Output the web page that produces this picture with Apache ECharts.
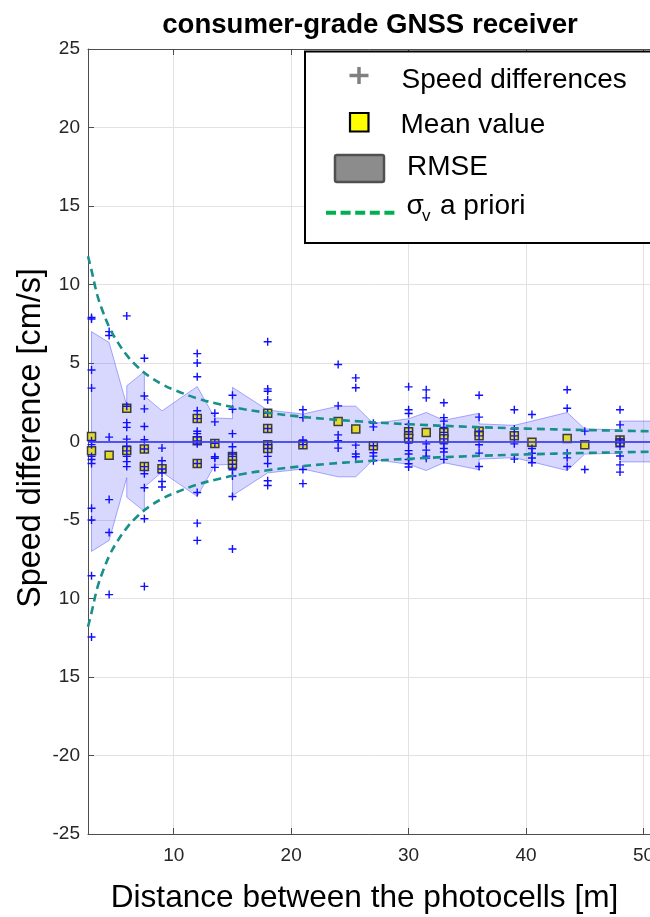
<!DOCTYPE html>
<html>
<head>
<meta charset="utf-8">
<title>consumer-grade GNSS receiver</title>
<script src="https://cdn.jsdelivr.net/npm/echarts@6/dist/echarts.min.js"></script>
<style>
  html, body { margin: 0; padding: 0; background: #ffffff; }
  #chart { width: 650px; height: 917px; }
</style>
</head>
<body>
<div id="chart"></div>
<script>
// Distances between the photocells [m] for each measurement group
const groupDistances = [3, 4.5, 6, 7.5, 9, 12, 13.5, 15, 18, 21, 24, 25.5, 27, 30, 31.5, 33, 36, 39, 40.5, 43.5, 45, 48];

// Individual speed differences [cm/s] in each group
const groupSpeedDiffs = [
  [7.9, 7.8, 4.55, 3.4, 0.05, -0.2, -0.95, -1.15, -1.4, -4.25, -5.0, -8.55, -12.45],
  [7.0, 6.75, 0.28, -3.7, -5.8, -9.75],
  [8.0, 2.25, 1.2, 0.9, 0.15, -0.3, -0.6, -0.95, -1.28, -1.6],
  [5.3, 2.9, 2.08, 0.96, 0.11, -0.48, -1.6, -2.05, -2.95, -4.92, -9.23],
  [-0.42, -1.23, -1.75, -2.0, -2.55, -2.9],
  [5.6, 5.0, 4.12, 1.96, 1.46, 0.65, 0.5, 0.3, 0.04, -0.15, -1.4, -3.25, -5.2, -6.3],
  [1.8, 1.25, -0.12, -0.97, -1.07, -1.65],
  [2.95, 2.05, 0.5, -0.33, -0.8, -0.95, -1.45, -1.8, -2.2, -3.5, -6.85],
  [6.35, 3.35, 3.2, 2.65, 1.8, 0.83, -0.2, -0.45, -0.95, -1.4, -2.5, -2.8],
  [2.02, 1.52, 0.1, -0.2, -1.78, -2.68],
  [4.9, 2.27, 0.42, 0.05, -0.42],
  [4.05, 3.42, -0.23, -0.8, -0.97],
  [1.17, 0.93, -0.27, -0.72, -0.93, -1.23],
  [3.48, 2.02, 1.78, 1.1, 0.62, 0.21, -0.1, -0.58, -0.8, -1.15, -1.42, -1.62],
  [3.29, 2.78, -0.15, -0.55, -0.93, -1.06],
  [2.47, 1.52, 1.3, 0.9, 0.58, 0.17, -0.15, -0.45, -0.67, -1.14],
  [2.95, 1.55, 0.66, 0.36, -0.21, -0.74, -1.59],
  [2.02, 0.8, 0.36, -0.15, -1.12],
  [1.72, -0.45, -0.75, -1.05, -1.35],
  [3.3, 2.12, -0.74, -1.04, -1.59],
  [0.66, -1.78],
  [2.02, 1.06, 0.1, -0.08, -0.3, -0.92, -1.49, -1.95]
];

// Mean value of each run
const meanDistances = [3, 3, 4.5, 6, 6, 7.5, 7.5, 9, 12, 12, 12, 13.5, 15, 15, 18, 18, 18, 18, 21, 24, 25.5, 27, 30, 30, 31.5, 33, 33, 36, 36, 39, 40.5, 43.5, 45, 48, 48];
const meanValues = [0.32, -0.59, -0.87, 2.12, -0.57, -0.48, -1.6, -1.74, 1.46, 0.04, -1.4, -0.12, -0.95, -1.45, 1.8, 0.83, -0.2, -0.45, -0.2, 1.27, 0.8, -0.27, 0.62, 0.21, 0.58, 0.58, 0.17, 0.66, 0.36, 0.36, -0.04, 0.19, -0.21, 0.1, -0.08];

// RMSE envelope (drawn as +/- RMSE around zero)
const rmseDistances = [3, 4.5, 6, 6, 7.5, 7.5, 9, 12, 13.5, 15, 15, 18, 21, 24, 25.5, 27, 30, 31.5, 33, 36, 36, 39, 40.5, 43.5, 45, 48, 48, 51];
const rmseValues = [7.0, 6.3, 2.3, 3.55, 4.45, 2.9, 1.95, 3.5, 1.5, 1.45, 3.45, 2.0, 1.75, 2.25, 2.25, 1.15, 1.45, 1.85, 1.35, 1.8, 1.12, 1.03, 1.3, 1.85, 0.8, 0.75, 1.3, 1.3];

// A priori speed accuracy (sigma_v) versus distance
const sigmaDistances = [2.7, 3, 3.5, 4, 4.5, 5, 6, 7, 8, 9, 10, 12, 14, 16, 18, 20, 23, 26, 30, 35, 40, 45, 50, 53];
const sigmaValues = [11.8, 10.9, 9.3, 8.2, 7.3, 6.6, 5.5, 4.7, 4.1, 3.65, 3.3, 2.75, 2.35, 2.05, 1.83, 1.65, 1.43, 1.27, 1.1, 0.94, 0.82, 0.73, 0.66, 0.62];

// Axis ticks
const xTickValues = [10, 20, 30, 40, 50];
const yTickValues = [-25, -20, -15, -10, -5, 0, 5, 10, 15, 20, 25];
const yTickLabels = ['-25', '-20', '15', '10', '-5', '0', '5', '10', '15', '20', '25'];

const FONT = '"Liberation Sans", Arial, Helvetica, sans-serif';
const AXIS_COLOR = '#4d4d4d';
const GRID_COLOR = '#e2e2e2';

const crossData = [];
groupDistances.forEach((d, i) => {
  groupSpeedDiffs[i].forEach(v => crossData.push([d, v]));
});
const meanData = meanDistances.map((d, i) => [d, meanValues[i]]);
const sigmaUpper = sigmaDistances.map((d, i) => [d, sigmaValues[i]]);
const sigmaLower = sigmaDistances.map((d, i) => [d, -sigmaValues[i]]);
const rmseData = rmseDistances.map((d, i) => [d, rmseValues[i]]);

const chart = echarts.init(document.getElementById('chart'), null, { renderer: 'canvas' });

// legend entries are drawn above everything in the plot
const legendText = (text, x, y, size) => ({
  type: 'text', x: x, y: y, z: 101, silent: true,
  style: { text: text, fill: '#000', font: size + 'px ' + FONT, textAlign: 'left', textVerticalAlign: 'middle' }
});

const option = {
  animation: false,
  backgroundColor: '#ffffff',
  grid: { left: 88, top: 49, width: 579, height: 785, outerBoundsMode: 'none', containLabel: false },
  xAxis: [
    {
      type: 'value', min: 2.7, max: 52, position: 'bottom',
      axisLine: { show: true, onZero: false, lineStyle: { color: AXIS_COLOR, width: 1 } },
      axisTick: { show: true, inside: true, length: 6, customValues: xTickValues, lineStyle: { color: AXIS_COLOR } },
      axisLabel: { show: true, customValues: xTickValues, fontSize: 19, color: '#262626', fontFamily: FONT, margin: 12 },
      splitLine: { show: true, lineStyle: { color: GRID_COLOR, width: 1 } }
    },
    {
      type: 'value', min: 2.7, max: 52, position: 'top',
      axisLine: { show: true, onZero: false, lineStyle: { color: AXIS_COLOR, width: 1 } },
      axisTick: { show: true, inside: true, length: 6, customValues: xTickValues, lineStyle: { color: AXIS_COLOR } },
      axisLabel: { show: false },
      splitLine: { show: false }
    }
  ],
  yAxis: {
    type: 'value', min: -25, max: 25, interval: 5,
    axisLine: { show: true, onZero: false, lineStyle: { color: AXIS_COLOR, width: 1 } },
    axisTick: { show: true, inside: true, length: 6, lineStyle: { color: AXIS_COLOR } },
    axisLabel: {
      fontSize: 19, color: '#262626', fontFamily: FONT, margin: 8,
      formatter: v => {
        const i = yTickValues.indexOf(v);
        return i >= 0 ? yTickLabels[i] : '';
      }
    },
    splitLine: { show: true, lineStyle: { color: GRID_COLOR, width: 1 } }
  },
  series: [
    {
      name: 'RMSE',
      type: 'custom',
      silent: true,
      clip: true,
      data: rmseData,
      renderItem: (params, api) => {
        if (params.dataIndex !== 0) return null;
        const upper = rmseDistances.map((d, i) => api.coord([d, rmseValues[i]]));
        const lower = rmseDistances.map((d, i) => api.coord([d, -rmseValues[i]])).reverse();
        return {
          type: 'polygon',
          shape: { points: upper.concat(lower) },
          style: { fill: 'rgba(40,40,255,0.18)', stroke: 'rgba(70,70,255,0.45)', lineWidth: 1 }
        };
      },
      markLine: {
        silent: true,
        symbol: 'none',
        label: { show: false },
        lineStyle: { color: 'rgba(60,60,240,0.85)', width: 2, type: 'solid' },
        data: [{ yAxis: 0 }]
      }
    },
    {
      name: 'sigma upper',
      type: 'line', data: sigmaUpper, smooth: 0.4, showSymbol: false, silent: true,
      lineStyle: { color: '#18908a', width: 2.6, type: [8, 5] }
    },
    {
      name: 'sigma lower',
      type: 'line', data: sigmaLower, smooth: 0.4, showSymbol: false, silent: true,
      lineStyle: { color: '#18908a', width: 2.6, type: [8, 5] }
    },
    {
      name: 'Mean value',
      type: 'scatter', data: meanData, symbol: 'rect', symbolSize: 8, silent: true,
      itemStyle: { color: '#e3da2c', borderColor: '#3c3c3c', borderWidth: 1.5, opacity: 1 }
    },
    {
      name: 'Speed differences',
      type: 'scatter', data: crossData, silent: true,
      symbol: 'path://M0,5L10,5M5,0L5,10', symbolSize: 8,
      itemStyle: { color: 'none', borderColor: '#1010ff', borderWidth: 1.4, opacity: 1 }
    }
  ],
  graphic: [
    {
      type: 'text', x: 370, y: 25.5, silent: true,
      style: { text: 'consumer-grade GNSS receiver', fill: '#000', font: 'bold 27.6px ' + FONT, textAlign: 'center', textVerticalAlign: 'middle' }
    },
    {
      type: 'text', x: 364.5, y: 898, silent: true,
      style: { text: 'Distance between the photocells [m]', fill: '#000', font: '31.6px ' + FONT, textAlign: 'center', textVerticalAlign: 'middle' }
    },
    {
      type: 'text', x: 31, y: 438, rotation: Math.PI / 2, silent: true,
      style: { text: 'Speed difference [cm/s]', fill: '#000', font: '32.4px ' + FONT, textAlign: 'center', textVerticalAlign: 'middle' }
    },
    // legend box
    { type: 'rect', z: 100, silent: true, shape: { x: 305, y: 51.5, width: 360, height: 191.5 }, style: { fill: '#ffffff', stroke: '#000000', lineWidth: 2 } },
    { type: 'line', z: 101, silent: true, shape: { x1: 349.5, y1: 75.5, x2: 368.5, y2: 75.5 }, style: { stroke: '#808080', lineWidth: 3.5 } },
    { type: 'line', z: 101, silent: true, shape: { x1: 359, y1: 67, x2: 359, y2: 84 }, style: { stroke: '#808080', lineWidth: 3.5 } },
    legendText('Speed differences', 401.5, 80, 28),
    { type: 'rect', z: 101, silent: true, shape: { x: 350, y: 113, width: 18.5, height: 18.5 }, style: { fill: '#ffff00', stroke: '#000000', lineWidth: 2.2 } },
    legendText('Mean value', 400.5, 125, 28),
    { type: 'rect', z: 101, silent: true, shape: { x: 335, y: 155, width: 49, height: 27, r: 2 }, style: { fill: '#8c8c8c', stroke: '#505050', lineWidth: 2.5 } },
    legendText('RMSE', 407, 167, 28),
    { type: 'line', z: 101, silent: true, shape: { x1: 326, y1: 212.7, x2: 398.5, y2: 212.7 }, style: { stroke: '#00b050', lineWidth: 4, lineDash: [10, 4.6] } },
    legendText('σ', 406.5, 206, 28),
    legendText('v', 422, 216.5, 17),
    legendText('a priori', 440, 206, 28)
  ]
};

chart.setOption(option);
</script>
</body>
</html>
